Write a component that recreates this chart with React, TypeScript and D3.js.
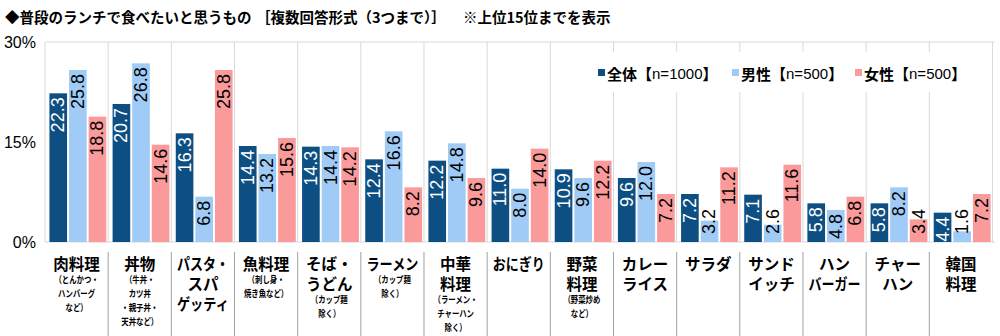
import React from "react";
import * as d3 from "d3";

const categories = ["肉料理","丼物","パスタ","魚料理","そばうどん","ラーメン","中華料理","おにぎり","野菜料理","カレーライス","サラダ","サンドイッチ","ハンバーガー","チャーハン","韓国料理"];
const mainLabels: string[][] = [
  ["肉料理"],["丼物"],["パスタ・","スパ","ゲッティ"],["魚料理"],["そば・","うどん"],["ラーメン"],["中華","料理"],["おにぎり"],["野菜","料理"],["カレー","ライス"],["サラダ"],["サンド","イッチ"],["ハン","バーガー"],["チャー","ハン"],["韓国","料理"]
];
const subLabels: string[][] = [
  ["（とんかつ・","ハンバーグ","など）"],["（牛丼・","カツ丼","・親子丼・","天丼など）"],[],["（刺し身・","焼き魚など）"],["（カップ麺","除く）"],["（カップ麺","除く）"],["（ラーメン・","チャーハン","除く）"],[],["（野菜炒め","など）"],[],[],[],[],[],[]
];
const seriesNames = ["全体", "男性", "女性"];
const seriesN = ["n=1000", "n=500", "n=500"];
const allValues = [22.3,20.7,16.3,14.4,14.3,12.4,12.2,11.0,10.9,9.6,7.2,7.1,5.8,5.8,4.4];
const maleValues = [25.8,26.8,6.8,13.2,14.4,16.6,14.8,8.0,9.6,12.0,3.2,2.6,4.8,8.2,1.6];
const femaleValues = [18.8,14.6,25.8,15.6,14.2,8.2,9.6,14.0,12.2,7.2,11.2,11.6,6.8,3.4,7.2];
const yTicks = [0, 15, 30];

const colors = ["#0d4f82", "#9fcbf6", "#fa9a9a"];
const textColors = ["#ffffff", "#000000", "#000000"];
const JP = "'Noto Sans CJK JP', 'Noto Sans', sans-serif";
const NUM = "'Liberation Sans', Arial, sans-serif";

export default function App() {
  const W = 1000, H = 336;
  const left = 45, right = 995, top = 42, bottom = 242;
  const series = [allValues, maleValues, femaleValues];
  const x0 = d3.scaleBand<string>().domain(categories).range([left, right]).paddingInner(0.1).paddingOuter(0.07);
  const x1 = d3.scaleBand<number>().domain([0, 1, 2]).range([0, x0.bandwidth()]).paddingInner(0.1);
  const y = d3.scaleLinear().domain([0, 30]).range([bottom, top]);
  const step = x0.step();
  const bounds = d3.range(categories.length + 1).map(i => left + i * step);
  const labelFont = 18;
  const L = 25;

  return (
    <svg width={W} height={H} style={{ position: "absolute", left: 0, top: 0, background: "#fff" }}>
      <rect x={0} y={0} width={W} height={H} fill="#fff" />
      <text x={5} y={16} fontFamily={JP} fontWeight={700} fontSize={14.5} dominantBaseline="central" fill="#000">
        <tspan x={5}>◆普段のランチで食べたいと思うもの</tspan>
        <tspan x={256}>［複数回答形式（3つまで）］</tspan>
        <tspan x={463}>※上位15位までを表示</tspan>
      </text>
      {/* gridlines */}
      <line x1={left} x2={right} y1={y(30)} y2={y(30)} stroke="#d9d9d9" />
      <line x1={left} x2={right} y1={y(0)} y2={y(0)} stroke="#d9d9d9" />
      {bounds.map((bx, i) => (
        <line key={"g" + i} x1={bx} x2={bx} y1={top} y2={bottom} stroke="#d9d9d9" />
      ))}
      {bounds.slice(1, -1).map((bx, i) => (
        <line key={"s" + i} x1={bx} x2={bx} y1={252} y2={H} stroke="#a0a0a0" />
      ))}
      {yTicks.map(t => (
        <text key={t} x={36} y={y(t)} textAnchor="end" dominantBaseline="central" fontFamily={NUM} fontSize={16} fill="#000">{t}%</text>
      ))}
      {/* legend background */}
      <rect x={590} y={52} width={382} height={40} fill="#fff" />
      {/* bars */}
      {categories.map((c, ci) => (
        <g key={c}>
          {series.map((vals, si) => {
            const v = vals[ci];
            const bx = (x0(c) as number) + (x1(si) as number);
            const bw = x1.bandwidth();
            const by = y(v);
            let endY = by + 4;
            if (endY + L > bottom + 2) endY = bottom - L - 8;
            const cx = bx + bw / 2;
            return (
              <g key={si}>
                <rect x={bx} y={by} width={bw} height={bottom - by} fill={colors[si]} />
                <text transform={`translate(${cx},${endY}) rotate(-90)`} textAnchor="end" dominantBaseline="central" fontFamily={NUM} fontSize={labelFont} fill={textColors[si]}>{v.toFixed(1)}</text>
              </g>
            );
          })}
        </g>
      ))}
      {/* legend */}
      {seriesNames.map((n, i) => {
        const lx = [598, 732, 855][i];
        return (
          <g key={n}>
            <rect x={lx} y={69} width={7} height={7} fill={colors[i]} />
            <text x={lx + 9} y={73} dominantBaseline="central" fontFamily={JP} fontWeight={700} fontSize={15} fill="#000">
              {n}【<tspan fontFamily={NUM} fontWeight={400}>{seriesN[i]}</tspan>】
            </text>
          </g>
        );
      })}
      {/* category labels */}
      {categories.map((c, ci) => {
        const cx = left + (ci + 0.5) * step;
        const m = mainLabels[ci];
        const s = subLabels[ci];
        const lastMain = 263 + (m.length - 1) * 20;
        return (
          <g key={"l" + ci}>
            {m.map((t, k) => (
              <text key={k} x={cx} y={263 + k * 20} textAnchor="middle" dominantBaseline="central" fontFamily={JP} fontWeight={700} fontSize={15.5}
                fill="#000" {...(t.length >= 4 ? { textLength: 52, lengthAdjust: "spacingAndGlyphs" } : {})}>{t}</text>
            ))}
            {s.map((t, k) => (
              <text key={"s" + k} transform={`translate(${cx},${lastMain + 16 + k * 14}) scale(0.78,1)`} textAnchor="middle" dominantBaseline="central" fontFamily={JP} fontWeight={700} fontSize={9.5} fill="#000">{t}</text>
            ))}
          </g>
        );
      })}
    </svg>
  );
}
